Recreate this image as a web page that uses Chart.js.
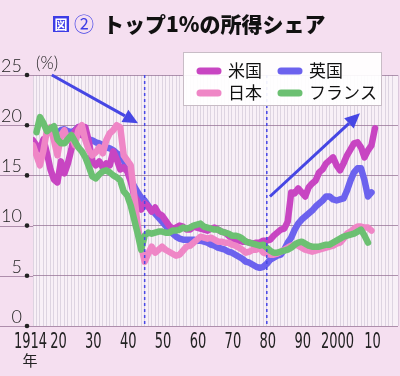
<!DOCTYPE html>
<html>
<head>
<meta charset="utf-8">
<script src="https://cdn.jsdelivr.net/npm/chart.js@4.4.1/dist/chart.umd.min.js"></script>
<style>
  html, body { margin: 0; padding: 0; background: #f5dff0; }
  canvas { display: block; }
</style>
</head>
<body>
<canvas id="chartCanvas" width="400" height="376"></canvas>
<script>
// 年（1913〜2011）
const years = [
  1913,1914,1915,1916,1917,1918,1919,1920,1921,1922,1923,1924,1925,1926,1927,1928,1929,1930,
  1931,1932,1933,1934,1935,1936,1937,1938,1939,1940,1941,1942,1943,1944,1945,1946,1947,1948,
  1949,1950,1951,1952,1953,1954,1955,1956,1957,1958,1959,1960,1961,1962,1963,1964,1965,1966,
  1967,1968,1969,1970,1971,1972,1973,1974,1975,1976,1977,1978,1979,1980,1981,1982,1983,1984,
  1985,1986,1987,1988,1989,1990,1991,1992,1993,1994,1995,1996,1997,1998,1999,2000,2001,2002,
  2003,2004,2005,2006,2007,2008,2009,2010,2011
];

// トップ1%の所得シェア (%)
const usShare = [
  18.5,18.0,17.6,18.6,17.2,15.6,14.6,14.3,16.4,15.2,16.2,17.6,19.4,19.8,19.0,19.8,18.4,16.4,
  16.0,16.4,15.8,16.2,16.0,17.4,16.6,15.6,15.8,15.4,14.4,13.0,12.4,11.6,12.2,11.9,11.4,11.8,
  11.2,11.0,10.5,10.0,9.7,9.8,10.0,9.9,9.6,9.6,9.9,9.8,9.7,9.6,9.5,9.7,9.8,9.6,
  9.4,9.3,9.0,8.7,8.6,8.5,8.4,8.4,8.3,8.2,8.3,8.3,8.5,8.5,8.6,9.0,9.3,9.6,
  9.7,10.4,13.3,13.2,13.7,13.3,12.9,13.8,14.2,14.5,15.3,15.6,16.2,16.5,16.8,16.0,15.5,16.2,
  17.0,17.6,18.2,18.3,17.8,16.8,17.5,18.0,19.7
];
const ukShare = [
  null,null,null,null,null,19.6,19.4,19.2,19.5,19.6,19.4,19.3,19.5,19.8,19.2,18.9,18.6,18.5,
  18.3,18.2,18.0,17.8,17.7,17.5,17.2,17.0,16.5,15.6,14.6,13.9,13.3,12.8,12.5,12.0,11.5,11.2,
  10.8,10.4,10.0,9.6,9.2,8.9,8.7,8.6,8.6,8.6,8.6,8.5,8.5,8.4,8.3,8.1,8.0,7.8,
  7.7,7.6,7.4,7.3,7.1,6.9,6.7,6.4,6.3,6.1,5.9,5.8,5.9,6.2,6.6,6.8,7.0,7.1,
  7.6,8.3,8.8,9.6,10.2,10.6,10.9,11.2,11.5,11.9,12.2,12.5,12.9,12.9,12.6,12.5,12.6,12.7,
  13.5,14.5,15.3,15.7,15.7,14.5,12.9,13.3,null
];
const jpShare = [
  18.0,17.0,16.0,17.5,19.5,19.8,18.5,17.0,19.0,19.5,18.5,19.0,18.0,19.5,20.0,18.5,17.5,17.0,
  17.3,17.8,17.2,18.5,19.2,19.5,20.0,19.8,17.0,16.5,16.0,13.0,10.0,8.0,6.4,7.2,7.9,7.3,
  7.6,7.9,7.6,7.4,7.2,7.0,7.1,7.5,7.9,8.0,8.3,8.6,8.9,8.8,8.7,8.8,8.6,8.4,
  8.4,8.3,8.3,8.1,8.0,7.8,7.6,7.3,7.4,7.6,7.6,7.8,7.3,7.2,7.1,7.1,7.2,7.4,
  7.6,7.8,8.0,8.1,8.0,7.8,7.6,7.5,7.4,7.5,7.6,7.7,7.8,7.9,8.0,8.2,8.3,8.7,
  9.2,9.4,9.7,9.9,9.9,9.8,9.8,9.5,null
];
const frShare = [
  null,19.3,20.8,20.2,19.4,19.7,19.9,18.6,18.2,18.2,18.6,19.0,18.4,17.8,17.4,16.8,15.9,14.9,
  14.7,15.1,15.4,15.5,15.3,15.0,14.8,14.5,13.4,13.0,12.0,10.6,9.2,7.6,9.0,9.3,9.2,9.3,
  9.4,9.4,9.3,9.3,9.5,9.5,9.6,9.8,9.7,9.8,10.0,10.1,10.2,9.9,9.8,9.7,9.6,9.6,
  9.4,9.3,9.2,9.0,9.0,8.9,8.7,8.4,8.3,8.2,8.1,8.0,8.1,7.8,7.5,7.3,7.3,7.4,
  7.5,7.6,7.8,8.1,8.3,8.4,8.2,8.0,7.9,7.9,7.9,8.0,8.1,8.1,8.3,8.5,8.7,8.9,
  9.0,9.1,9.2,9.4,9.6,9.0,8.3,null,null
];

const xTickYears  = [1914, 1920, 1930, 1940, 1950, 1960, 1970, 1980, 1990, 2000, 2010];
const xTickLabels = ['1914', '20', '30', '40', '50', '60', '70', '80', '90', '2000', '10'];
const markYears = [1945, 1980];              // 点線
// 矢印（年, %）
const arrows = [
  { from: [1918.4, 25.0], to: [1943.1, 20.2] },
  { from: [1980.9, 12.9], to: [2006.7, 21.2] }
];

const pts = vals => years.map((x, k) => ({ x, y: vals[k] }));

const lineStyle = { pointRadius: 0, borderWidth: 6.5, tension: 0,
  borderJoinStyle: 'round', borderCapStyle: 'round', fill: false };

const decor = {
  id: 'decor',
  beforeDraw(chart) {
    const { ctx, chartArea: a, scales: { y } } = chart;
    ctx.save();
    ctx.fillStyle = '#f8f0f7';
    ctx.fillRect(a.left, a.top, a.right - a.left, a.bottom - a.top);
    // 目盛線を左端まで
    ctx.strokeStyle = 'rgba(150,115,150,0.75)';
    ctx.lineWidth = 1;
    y.ticks.forEach(t => {
      const py = Math.round(y.getPixelForValue(t.value)) + 0.5;
      ctx.beginPath(); ctx.moveTo(0, py); ctx.lineTo(a.left, py); ctx.stroke();
    });
    ctx.restore();
  },
  afterDatasetsDraw(chart) {
    const { ctx, chartArea: a, scales: { x, y } } = chart;
    ctx.save();
    ctx.strokeStyle = '#4848e6';
    ctx.lineWidth = 1.5;
    ctx.setLineDash([3, 3]);
    markYears.forEach(yr => {
      const px = x.getPixelForValue(yr);
      ctx.beginPath(); ctx.moveTo(px, a.top); ctx.lineTo(px, a.bottom); ctx.stroke();
    });
    ctx.setLineDash([]);
    arrows.forEach(ar => {
      const x0 = x.getPixelForValue(ar.from[0]), y0 = y.getPixelForValue(ar.from[1]);
      const x1 = x.getPixelForValue(ar.to[0]),   y1 = y.getPixelForValue(ar.to[1]);
      const ang = Math.atan2(y1 - y0, x1 - x0);
      const hl = 15, hw = 7;
      const bx = x1 - hl * Math.cos(ang), by = y1 - hl * Math.sin(ang);
      ctx.strokeStyle = ctx.fillStyle = '#4646e4';
      ctx.lineWidth = 3;
      ctx.beginPath(); ctx.moveTo(x0, y0); ctx.lineTo(bx, by); ctx.stroke();
      ctx.beginPath();
      ctx.moveTo(x1, y1);
      ctx.lineTo(bx + hw * Math.sin(ang), by - hw * Math.cos(ang));
      ctx.lineTo(bx - hw * Math.sin(ang), by + hw * Math.cos(ang));
      ctx.closePath(); ctx.fill();
    });
    ctx.restore();
  },
  afterDraw(chart) {
    const { ctx, scales: { x, y } } = chart;
    ctx.save();
    // y軸ラベルと点
    ctx.fillStyle = '#222';
    ctx.font = '300 18px Lato, "DejaVu Sans", sans-serif';
    ctx.textAlign = 'right';
    ctx.textBaseline = 'middle';
    y.ticks.forEach(t => {
      const py = y.getPixelForValue(t.value);
      ctx.fillText(String(t.value), 22, py - 9);
      ctx.beginPath(); ctx.arc(27, py, 2.3, 0, Math.PI * 2); ctx.fill();
    });
    ctx.textAlign = 'left';
    ctx.font = '300 17px Lato, "DejaVu Sans", sans-serif';
    ctx.fillText('(%)', 36, 64);

    // x軸ラベル（細長い数字）
    ctx.textAlign = 'center';
    ctx.font = '21px "DejaVu Sans", sans-serif';
    xTickYears.forEach((yr, k) => {
      let px = x.getPixelForValue(yr) + 1;
      if (k === 0) px -= 7;
      ctx.save();
      ctx.translate(px, 343);
      ctx.scale(0.62, 1);
      ctx.fillText(xTickLabels[k], 0, 0);
      ctx.restore();
    });
    ctx.font = '15px "Noto Sans CJK JP", sans-serif';
    ctx.fillText('年', 30, 360);

    // 凡例
    ctx.fillStyle = 'rgba(255,255,255,0.92)';
    ctx.strokeStyle = '#c8bcc6';
    ctx.lineWidth = 1;
    ctx.fillRect(183.5, 52.5, 198, 53);
    ctx.strokeRect(183.5, 52.5, 198, 53);
    chart.data.datasets.forEach((d, k) => {
      const cx = k % 2 === 0 ? 197 : 278;
      const cy = k < 2 ? 71 : 93;
      ctx.strokeStyle = d.borderColor;
      ctx.lineWidth = 7;
      ctx.lineCap = 'round';
      ctx.beginPath(); ctx.moveTo(cx + 3, cy); ctx.lineTo(cx + 21, cy); ctx.stroke();
      ctx.fillStyle = '#111';
      ctx.font = '17px "Noto Sans CJK JP", sans-serif';
      ctx.textAlign = 'left';
      ctx.fillText(d.label, cx + 31, cy);
    });

    // タイトル
    ctx.fillStyle = '#3d3de6';
    ctx.fillRect(53, 16, 16, 16);
    ctx.fillStyle = '#fff';
    ctx.font = 'bold 13px "Noto Sans CJK JP", sans-serif';
    ctx.textAlign = 'center';
    ctx.fillText('図', 61, 24.5);
    ctx.fillStyle = '#3d3de6';
    ctx.font = '20px "Noto Sans CJK JP", sans-serif';
    ctx.fillText('②', 84, 24);
    ctx.fillStyle = '#111';
    ctx.font = '900 21px "Noto Sans CJK JP", sans-serif';
    ctx.textAlign = 'left';
    ctx.fillText('トップ1%の所得シェア', 103, 24);
    ctx.restore();
  }
};

new Chart(document.getElementById('chartCanvas').getContext('2d'), {
  type: 'line',
  data: {
    datasets: [
      { label: '米国', data: pts(usShare), borderColor: '#c845c2', order: 2, ...lineStyle },
      { label: '英国', data: pts(ukShare), borderColor: '#6c62ee', order: 3, ...lineStyle },
      { label: '日本', data: pts(jpShare), borderColor: '#ef86c6', order: 1, ...lineStyle },
      { label: 'フランス', data: pts(frShare), borderColor: '#6cc072', order: 0, ...lineStyle }
    ]
  },
  options: {
    responsive: false,
    animation: false,
    devicePixelRatio: 1,
    layout: { padding: { top: 75, right: 2, left: 0, bottom: 0 } },
    scales: {
      x: {
        type: 'linear', min: 1913, max: 2017.6,
        ticks: { display: false, stepSize: 1 },
        grid: { color: 'rgba(160,150,175,0.3)', drawTicks: false },
        border: { display: false },
        afterFit: s => { s.height = 50; }
      },
      y: {
        min: 0, max: 25,
        ticks: { display: false, stepSize: 5 },
        grid: { color: 'rgba(150,115,150,0.75)', drawTicks: false },
        border: { display: false },
        afterFit: s => { s.width = 33; }
      }
    },
    plugins: {
      legend: { display: false },
      tooltip: { enabled: false }
    }
  },
  plugins: [decor]
});
</script>
</body>
</html>
